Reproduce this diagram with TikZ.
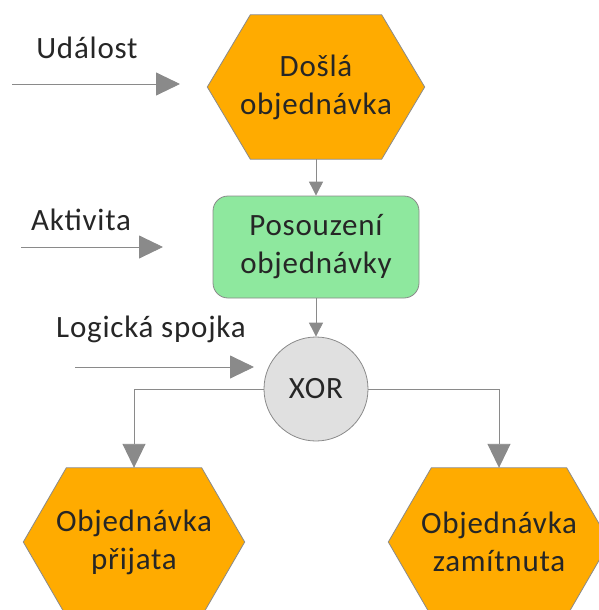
\documentclass[tikz,border=0pt]{standalone}
\usepackage{fontspec}
\setmainfont{Carlito}[LetterSpace=2.5]
\usetikzlibrary{arrows.meta,backgrounds}
\definecolor{evorange}{HTML}{FFAB00}
\definecolor{actgreen}{HTML}{8EE89E}
\definecolor{gatefill}{HTML}{E0E0E0}
\definecolor{edgegray}{HTML}{8A8A8A}
\definecolor{ink}{HTML}{262626}
\tikzset{
  txt/.style={font=\fontsize{31pt}{38pt}\selectfont, text=ink, align=center},
  event/.style={txt, rectangle, inner sep=0pt, minimum width=221pt, minimum height=148pt},
  eventhex/.style={fill=evorange, draw=edgegray, line width=0.8pt},
  activity/.style={txt, rectangle, rounded corners=15pt, fill=actgreen,
    draw=edgegray, line width=0.8pt, minimum width=206pt, minimum height=102pt},
  gate/.style={txt, circle, fill=gatefill, draw=edgegray, line width=0.8pt,
    minimum size=104pt, inner sep=0pt},
  legend/.style={txt},
  flow/.style={draw=edgegray, line width=0.9pt, -{Triangle[length=14pt,width=14pt]}},
  bigflow/.style={draw=edgegray, line width=0.9pt, -{Triangle[length=24pt,width=23pt]}},
}
% hexagonal outline of an event node, pointed to the left and right
\newcommand\eventoutline[1]{%
  \path[eventhex] (#1.west) -- ([xshift=43pt]#1.north west) -- ([xshift=-43pt]#1.north east)
    -- (#1.east) -- ([xshift=-43pt]#1.south east) -- ([xshift=43pt]#1.south west) -- cycle;}
\begin{document}
\begin{tikzpicture}[x=1pt,y=-1pt]
  \path[use as bounding box] (0,0) rectangle (598,610);

  % process chain
  \node[event, minimum width=217pt, minimum height=144pt]
                  (inc)  at (316,87)  {Došlá\\objednávka};
  \node[activity] (eval) at (316,247) {Posouzení\\objednávky};
  \node[gate]     (xor)  at (316,389) {XOR};
  \node[event]    (acc)  at (134,542) {Objednávka\\přijata};
  \node[event]    (rej)  at (499,542) {Objednávka\\zamítnuta};

  \begin{scope}[on background layer]
    \eventoutline{inc}
    \eventoutline{acc}
    \eventoutline{rej}
  \end{scope}

  \draw[flow] (inc.south) -- (eval.north);
  \draw[flow] (eval.south) -- (xor.north);
  \draw[bigflow] (xor.west) -| (acc.north);
  \draw[bigflow] (xor.east) -| (rej.north);

  % legend
  \node[legend] (lev)  at (87,48)   {Událost};
  \node[legend] (lact) at (81,220)  {Aktivita};
  \node[legend] (lcon) at (151,329) {Logická spojka};

  \coordinate (evA) at (12,84);   \coordinate (evB) at (180,84);
  \coordinate (acA) at (21,247);  \coordinate (acB) at (163,247);
  \coordinate (coA) at (75,367);  \coordinate (coB) at (254,367);
  \draw[bigflow] (evA) -- (evB);
  \draw[bigflow] (acA) -- (acB);
  \draw[bigflow] (coA) -- (coB);
\end{tikzpicture}
\end{document}
